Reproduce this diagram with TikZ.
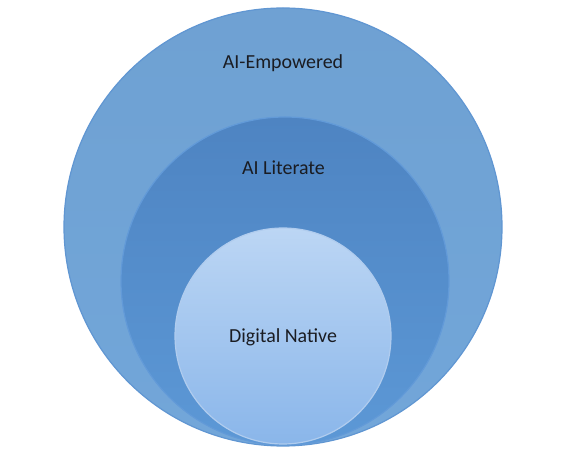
\documentclass[tikz,border=0pt]{standalone}
\usepackage{fontspec}
\setmainfont{Carlito}
\usepackage{tikz}

\definecolor{outerblue}{RGB}{114,166,217}
\definecolor{outerrim}{RGB}{96,150,210}
\definecolor{midtop}{RGB}{78,132,194}
\definecolor{midbot}{RGB}{92,152,214}
\definecolor{midrim}{RGB}{98,154,216}
\definecolor{innertop}{RGB}{188,214,244}
\definecolor{innerbot}{RGB}{138,182,234}
\definecolor{innerrim}{RGB}{176,204,238}
\definecolor{labelgray}{RGB}{26,28,34}

\tikzset{
  level/.style={font=\fontsize{20}{24}\selectfont, text=labelgray, inner sep=0pt}
}

\begin{document}
\begin{tikzpicture}[x=1bp,y=1bp]
\useasboundingbox (0,0) rectangle (577,451);
\shade[top color=outerblue!97!black, bottom color=outerblue, draw=outerrim, line width=1.2bp] (283,224) circle (219);
\shade[top color=midtop, bottom color=midbot, draw=midrim, line width=1.2bp] (285,170) circle (164);
\shade[top color=innertop, bottom color=innerbot, draw=innerrim, line width=1.2bp] (283,115) circle (108);
\node[level] (empowered) at (283,388) {AI-Empowered};
\node[level] (literate) at (283.5,283) {AI Literate};
\node[level] (native) at (283,114) {Digital Native};
\end{tikzpicture}
\end{document}
